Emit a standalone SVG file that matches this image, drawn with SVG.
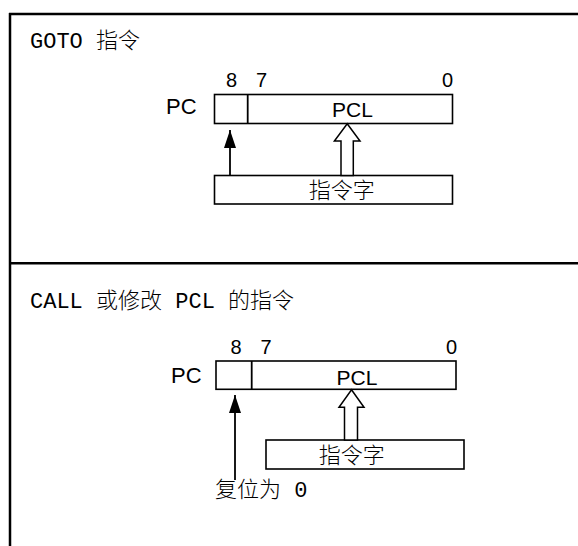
<svg xmlns="http://www.w3.org/2000/svg" width="578" height="546" viewBox="0 0 578 546">
<defs>
<style>
.frame{stroke:#000;stroke-width:2.5;fill:none}
.box{fill:#fff;stroke:#000;stroke-width:1.6}
.line{stroke:#000;stroke-width:1.8;fill:none}
.hollow{fill:#fff;stroke:#000;stroke-width:1.5;stroke-linejoin:miter}
.sans{font-family:"Liberation Sans",Arial,sans-serif;fill:#000}
.cjk{font-family:"Noto Sans CJK SC",sans-serif;font-size:22px;font-weight:300;fill:#000}
.cjkmix{font-family:"Liberation Mono","Noto Sans CJK SC",monospace;font-size:22px;fill:#000}
.c{font-family:"Noto Sans CJK SC",sans-serif;font-weight:300}
</style>
<marker id="ah" markerUnits="userSpaceOnUse" markerWidth="19" markerHeight="13" refX="18" refY="6" orient="auto">
<path d="M0,0 L18,6 L0,12 z" fill="#000"/>
</marker>
</defs>
<rect width="578" height="546" fill="#fff"/>

<g id="frame">
<line class="frame" x1="9" y1="14" x2="578" y2="14"/>
<line class="frame" x1="10" y1="13" x2="10" y2="546"/>
<line class="frame" x1="10" y1="263.3" x2="578" y2="263.3"/>
</g>

<g id="goto-section">
<text id="goto-title" class="cjkmix" x="30" y="48">GOTO <tspan class="c">指令</tspan></text>
<g id="goto-pc">
<text class="sans" font-size="22" x="166" y="114">PC</text>
<rect class="box" x="214.5" y="94.5" width="238" height="29"/>
<line class="line" x1="247.7" y1="94.5" x2="247.7" y2="123.5" stroke-width="1.6"/>
<text class="sans" font-size="20" x="226" y="87">8</text>
<text class="sans" font-size="20" x="256" y="87">7</text>
<text class="sans" font-size="20" x="453" y="87" text-anchor="end">0</text>
<text class="sans" font-size="21" x="352.5" y="117" text-anchor="middle">PCL</text>
</g>
<g id="goto-word">
<rect class="box" x="214.5" y="175.5" width="238" height="28.5"/>
<text class="cjk" x="341.7" y="198" text-anchor="middle">指令字</text>
</g>
</g>

<g id="call-section">
<text id="call-title" class="cjkmix" x="30" y="308">CALL <tspan class="c">或修改</tspan> PCL <tspan class="c">的指令</tspan></text>
<g id="call-pc">
<text class="sans" font-size="22" x="171" y="383">PC</text>
<rect class="box" x="216" y="361" width="240" height="28.3"/>
<line class="line" x1="251.7" y1="361" x2="251.7" y2="389.3" stroke-width="1.6"/>
<text class="sans" font-size="20" x="230.5" y="354">8</text>
<text class="sans" font-size="20" x="260.5" y="354">7</text>
<text class="sans" font-size="20" x="457" y="354" text-anchor="end">0</text>
<text class="sans" font-size="21" x="357" y="385" text-anchor="middle">PCL</text>
</g>
<g id="call-word">
<rect class="box" x="266" y="440" width="198" height="29"/>
<text class="cjk" x="351.7" y="462.5" text-anchor="middle">指令字</text>
</g>
<g id="reset-label">
<text class="cjkmix" x="215" y="497"><tspan class="c">复位为</tspan> 0</text>
</g>
</g>

<g id="connectors">
<line class="line" x1="230" y1="175.5" x2="230" y2="130" marker-end="url(#ah)"/>
<polygon class="hollow" points="347.2,123.8 360,141 353.3,141 353.3,175.5 341,175.5 341,141 334.4,141"/>
<line class="line" x1="235" y1="480" x2="235" y2="395" marker-end="url(#ah)"/>
<polygon class="hollow" points="351.5,389.8 364,407.3 357.5,407.3 357.5,440 344.5,440 344.5,407.3 339,407.3"/>
</g>
</svg>
